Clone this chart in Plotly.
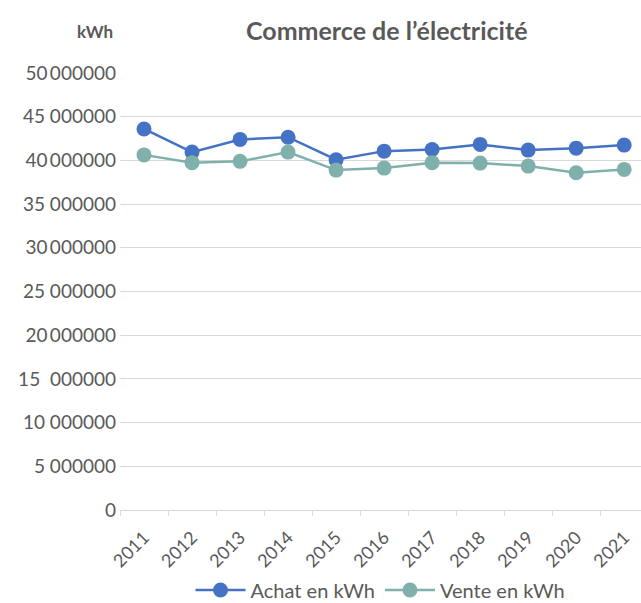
import plotly.graph_objects as go

# Electricity trade, yearly volumes in kWh
years = ["2011", "2012", "2013", "2014", "2015", "2016", "2017", "2018", "2019", "2020", "2021"]
achat_kwh = [43_600_000, 40_950_000, 42_400_000, 42_650_000, 40_080_000, 41_060_000,
             41_250_000, 41_830_000, 41_180_000, 41_400_000, 41_750_000]
vente_kwh = [40_630_000, 39_740_000, 39_890_000, 40_950_000, 38_890_000, 39_120_000,
             39_740_000, 39_690_000, 39_350_000, 38_590_000, 38_970_000]

y_tick_values = [0, 5_000_000, 10_000_000, 15_000_000, 20_000_000, 25_000_000,
                 30_000_000, 35_000_000, 40_000_000, 45_000_000, 50_000_000]
y_tick_labels = ["0", "5\u00a0000000", "10\u00a0000000", "15\u00a0\u00a0000000",
                 "20\u2009000000", "25\u00a0000000", "30\u2009000000", "35\u00a0000000",
                 "40\u2009000000", "45\u00a0000000", "50\u2009000000"]

TEXT = "#595959"
GRID = "#D9D9D9"
FONT = "Lato"

fig = go.Figure()
fig.add_trace(go.Scatter(
    x=years, y=achat_kwh, name="Achat en kWh", mode="lines+markers",
    line=dict(color="#4472C4", width=2.5),
    marker=dict(color="#4472C4", size=15),
))
fig.add_trace(go.Scatter(
    x=years, y=vente_kwh, name="Vente en kWh", mode="lines+markers",
    line=dict(color="#7FB0AB", width=2.5),
    marker=dict(color="#7FB0AB", size=15),
))

fig.update_layout(
    width=641, height=603,
    margin=dict(l=120, r=0, t=73, b=93, autoexpand=False),
    paper_bgcolor="white", plot_bgcolor="white",
    font=dict(family=FONT, color=TEXT, size=17),
    showlegend=True,
    legend=dict(orientation="h", x=0.5, xanchor="center", y=(510 - 590) / 437, yanchor="middle",
                font=dict(size=20, color=TEXT), itemwidth=50),
    annotations=[
        dict(text="<b>Commerce de l\u2019électricité</b>", xref="paper", yref="paper",
             x=(386 - 120) / 521, y=(510 - 30) / 437, xanchor="center", yanchor="middle",
             showarrow=False, font=dict(size=25, color=TEXT, family=FONT)),
        dict(text="<b>kWh</b>", xref="paper", yref="paper",
             x=(95 - 120) / 521, y=(510 - 31) / 437, xanchor="center", yanchor="middle",
             showarrow=False, font=dict(size=17, color=TEXT, family=FONT)),
    ],
)

fig.update_xaxes(
    type="category", range=[-0.5, 10.35], automargin=False,
    showgrid=False, showline=True, linecolor=GRID, linewidth=1,
    ticks="outside", tickson="boundaries", ticklen=5, tickcolor=GRID,
    tickangle=-45, tickfont=dict(size=18, color=TEXT), ticklabelstandoff=9,
)
fig.update_yaxes(
    range=[0, 50_000_000], tickvals=y_tick_values, ticktext=y_tick_labels, automargin=False,
    showgrid=True, gridcolor=GRID, gridwidth=1, zeroline=False,
    tickfont=dict(size=19, color=TEXT), ticklabelstandoff=3,
)

fig.write_html("out.html")
